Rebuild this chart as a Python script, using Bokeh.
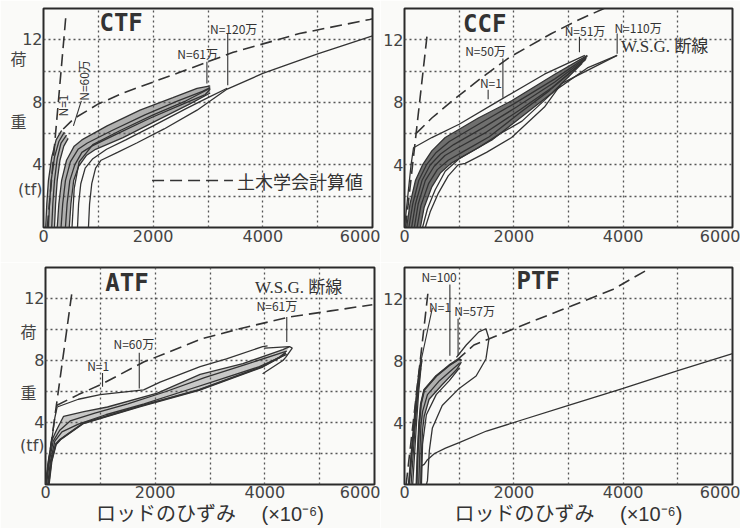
from bokeh.plotting import figure
from bokeh.models import Range1d, FixedTicker
from bokeh.models import Label
from bokeh.layouts import column, row
from bokeh.embed import file_html
from bokeh.resources import INLINE

# ---------------- shared ticks / labels ----------------
X_TICKS = [0, 2000, 4000, 6000]
Y_TICKS = [4, 8, 12]
X_GRID = [1000, 2000, 3000, 4000, 5000]
Y_GRID = [2, 4, 6, 8, 10, 12]
XLABEL = "ロッドのひずみ　 (×10⁻⁶)"
YLABELS = ["荷", "重", "(tf)"]
CTF_YLABEL_POS = [10.75, 6.7, 2.45]
ATF_YLABEL_POS = [9.8, 5.9, 2.5]
CALC_LABEL = "土木学会計算値"

# ---------------- CTF ----------------
ctf_elastic_x = [70, 405]
ctf_elastic_y = [0, 13.4]
ctf_calc_x = [360, 550, 1000, 1455, 2000, 2545, 3460, 4670, 5950, 6000]
ctf_calc_y = [6.3, 6.95, 7.9, 8.6, 9.3, 10.0, 11.2, 12.4, 13.3, 13.35]
ctf_n1a_x = [40, 60, 90, 150, 230, 330]
ctf_n1a_y = [0, 1.5, 3.0, 4.5, 5.6, 6.2]
ctf_n1b_x = [90, 110, 140, 200, 280, 380]
ctf_n1b_y = [0, 1.5, 3.0, 4.5, 5.5, 6.1]
ctf_n1c_x = [150, 170, 200, 250, 320, 420]
ctf_n1c_y = [0, 1.5, 3.0, 4.4, 5.4, 5.9]
ctf_n1d_x = [200, 220, 250, 300, 370, 450]
ctf_n1d_y = [0, 1.5, 3.0, 4.3, 5.2, 5.7]
ctf_m1_x = [250, 280, 330, 420, 560, 700, 1160, 1760, 2360, 2800, 3040]
ctf_m1_y = [0, 1.5, 3.0, 4.3, 5.2, 5.6, 6.5, 7.5, 8.3, 8.9, 9.05]
ctf_m2_x = [320, 350, 400, 490, 630, 800, 1250, 1850, 2450, 2900, 3040]
ctf_m2_y = [0, 1.5, 3.0, 4.2, 5.0, 5.4, 6.2, 7.2, 8.1, 8.7, 8.95]
ctf_m3_x = [400, 430, 480, 570, 700, 880, 1350, 1950, 2550, 2950, 3040]
ctf_m3_y = [0, 1.5, 3.0, 4.0, 4.8, 5.2, 6.0, 7.0, 7.9, 8.5, 8.85]
ctf_m4_x = [470, 500, 550, 640, 780, 950, 1450, 2070, 2670, 3040]
ctf_m4_y = [0, 1.5, 3.0, 3.9, 4.6, 5.0, 5.75, 6.85, 7.9, 8.6]
ctf_mu_x = [3040, 2600, 2000, 1400, 900, 650, 560, 520]
ctf_mu_y = [8.9, 8.1, 7.2, 6.2, 5.3, 4.2, 2.5, 0]
ctf_r1_x = [620, 640, 680, 760, 900, 1150, 1500, 2000, 2600, 3000, 3350]
ctf_r1_y = [0, 1.5, 2.8, 3.8, 4.4, 5.0, 5.6, 6.5, 7.6, 8.3, 8.9]
ctf_r2_x = [820, 840, 880, 950, 1050, 1350, 1700, 2200, 2800, 3350, 4000, 5000, 6000]
ctf_r2_y = [0, 1.5, 2.8, 3.8, 4.3, 4.8, 5.4, 6.3, 7.5, 8.85, 9.85, 11.1, 12.25]

# ---------------- CCF ----------------
ccf_elastic_x = [20, 420]
ccf_elastic_y = [0, 12.5]
ccf_calc_x = [210, 500, 840, 1380, 1930, 2690, 3200, 3650]
ccf_calc_y = [6.0, 7.0, 8.0, 9.5, 10.9, 12.4, 13.3, 14.0]
ccf_up_x = [0, 60, 120, 165, 500, 1000, 1700, 2560, 3300]
ccf_up_y = [0, 2.0, 4.0, 5.1, 5.75, 6.6, 8.05, 9.8, 11.0]
ccf_b1_x = [40, 100, 200, 330, 500, 745, 1350, 1960, 2750, 3345]
ccf_b1_y = [0, 1.5, 3.0, 4.0, 4.9, 5.75, 7.0, 8.1, 9.8, 11.0]
ccf_b2_x = [80, 150, 260, 400, 580, 820, 1400, 2000, 2750, 3345]
ccf_b2_y = [0, 1.5, 3.0, 4.0, 4.8, 5.5, 6.7, 7.9, 9.5, 10.95]
ccf_b3_x = [130, 200, 320, 470, 660, 900, 1450, 2050, 2750, 3330]
ccf_b3_y = [0, 1.5, 3.0, 4.0, 4.7, 5.3, 6.4, 7.7, 9.3, 10.85]
ccf_b4_x = [180, 250, 380, 540, 740, 980, 1500, 2100, 2700, 3320]
ccf_b4_y = [0, 1.5, 3.0, 3.9, 4.6, 5.1, 6.1, 7.5, 8.95, 10.75]
ccf_b5_x = [230, 300, 440, 600, 800, 1050, 1550, 2100, 2650, 3300]
ccf_b5_y = [0, 1.4, 2.8, 3.7, 4.3, 4.8, 5.8, 7.3, 8.75, 10.7]
ccf_b6_x = [290, 360, 500, 660, 850, 1100, 1600, 2150, 2700, 3250]
ccf_b6_y = [0, 1.3, 2.6, 3.5, 4.1, 4.6, 5.6, 7.1, 8.6, 10.5]
ccf_l1_x = [330, 420, 560, 745, 1000, 1350, 1750, 2150, 2750, 3345, 3890]
ccf_l1_y = [0, 1.2, 2.4, 3.6, 4.4, 5.1, 6.0, 6.8, 8.75, 10.2, 11.0]
ccf_l2_x = [380, 470, 620, 800, 980, 1110, 1500, 1960, 2560, 2870, 3890]
ccf_l2_y = [0, 1.0, 2.2, 3.3, 4.0, 4.1, 4.8, 5.75, 7.7, 9.2, 11.0]

# ---------------- ATF ----------------
atf_elastic_x = [0, 490]
atf_elastic_y = [0, 12.6]
atf_calc_x = [200, 600, 1040, 1790, 2850, 3600, 4440, 5200, 5960]
atf_calc_y = [5.1, 5.8, 6.5, 7.9, 9.4, 10.1, 10.8, 11.2, 11.6]
atf_up_x = [0, 60, 120, 170, 212, 600, 1000, 1790, 2090, 2820, 3300, 3960, 4050]
atf_up_y = [0, 1.5, 3.0, 4.3, 5.0, 5.5, 5.8, 6.1, 6.6, 7.6, 8.1, 8.9, 8.95]
atf_a1_x = [0, 50, 110, 200, 330, 700, 1130, 2040, 2820, 3600, 4330, 4450]
atf_a1_y = [0, 1.5, 2.8, 3.5, 4.4, 4.7, 5.0, 5.9, 7.1, 7.8, 8.7, 8.9]
atf_a2_x = [20, 70, 140, 260, 450, 900, 1500, 2200, 2900, 3700, 4400]
atf_a2_y = [0, 1.5, 2.8, 3.5, 4.1, 4.6, 5.2, 6.0, 6.9, 7.8, 8.6]
atf_a3_x = [40, 90, 170, 300, 600, 1100, 1800, 2500, 3200, 3900, 4400]
atf_a3_y = [0, 1.5, 2.8, 3.4, 3.9, 4.5, 5.2, 6.0, 6.8, 7.6, 8.4]
atf_a4_x = [60, 110, 190, 270, 690, 1730, 2800, 3960, 4270, 4380]
atf_a4_y = [0, 1.5, 2.6, 2.9, 3.95, 5.05, 6.1, 7.6, 8.2, 8.5]
atf_tip_x = [4000, 4450, 4500, 4380, 4330, 3960]
atf_tip_y = [8.8, 8.9, 8.8, 8.2, 8.0, 7.15]

# ---------------- PTF ----------------
ptf_elastic_x = [30, 430]
ptf_elastic_y = [0, 12.4]
ptf_calc_x = [950, 1270, 2000, 3040, 3820, 4490]
ptf_calc_y = [8.0, 9.0, 10.05, 11.5, 12.6, 13.95]
ptf_p1_x = [80, 130, 180, 230, 270, 310]
ptf_p1_y = [0, 2, 4, 6, 7.2, 8.1]
ptf_p2_x = [120, 160, 200, 245, 285, 320]
ptf_p2_y = [0, 2, 4, 6, 7.2, 8.0]
ptf_p3_x = [150, 185, 220, 260, 300]
ptf_p3_y = [0, 2, 4, 6, 7.5]
ptf_q1_x = [220, 240, 270, 300, 360, 580, 820, 1000, 1040]
ptf_q1_y = [0, 2, 4, 5.2, 6.1, 7.0, 7.7, 8.1, 8.0]
ptf_q2_x = [260, 280, 300, 330, 420, 640, 900, 1000]
ptf_q2_y = [0, 2, 3.8, 4.7, 5.8, 6.7, 7.5, 7.8]
ptf_q3_x = [300, 310, 330, 360, 450, 680, 950, 1040]
ptf_q3_y = [0, 2, 3.5, 4.4, 5.5, 6.4, 7.4, 7.9]
ptf_q4_x = [310, 320, 330, 400, 580, 820, 1000]
ptf_q4_y = [0, 1.2, 2.6, 4.5, 5.8, 6.7, 7.5]
ptf_loop_x = [400, 420, 455, 510, 690, 1000, 1310, 1490, 1545, 1490, 1360, 1130, 950]
ptf_loop_y = [0, 0.25, 2.2, 3.65, 5.1, 6.2, 7.0, 8.1, 9.4, 10.05, 9.85, 9.0, 8.2]
ptf_long_x = [300, 310, 360, 420, 550, 750, 1000, 1500, 2000, 3000, 4000, 5000, 6000]
ptf_long_y = [0, 1.2, 1.3, 1.6, 2.0, 2.35, 2.7, 3.45, 4.0, 5.1, 6.2, 7.35, 8.45]

INK = "#333333"
BG = "#fafaf8"
CJK = "Noto Sans CJK JP"
TICK_FONT = "DejaVu Sans, Noto Sans CJK JP"


def panel(width, height, bl, br, bt, bb, side_labels=None, side_pos=None, pad="\u2003", xlabel=None):
    p = figure(width=width, height=height, x_range=Range1d(0, 6000), y_range=Range1d(0, 14),
               output_backend="svg", toolbar_location=None,
               min_border_left=bl, min_border_right=br, min_border_top=bt, min_border_bottom=bb,
               background_fill_color=BG, border_fill_color=BG)
    p.outline_line_color = "#2a2a2a"
    p.outline_line_width = 2
    p.xaxis.ticker = FixedTicker(ticks=X_TICKS)
    if side_labels:
        p.yaxis.ticker = FixedTicker(ticks=sorted(Y_TICKS + side_pos))
        pads = [pad, pad, ""]
        p.yaxis.major_label_overrides = {pos: txt + pd for pos, txt, pd in zip(side_pos, side_labels, pads)}
    else:
        p.yaxis.ticker = FixedTicker(ticks=Y_TICKS)
    p.xgrid.ticker = FixedTicker(ticks=X_GRID)
    p.ygrid.ticker = FixedTicker(ticks=Y_GRID)
    for g in (p.xgrid, p.ygrid):
        g.grid_line_color = "#555555"
        g.grid_line_dash = "2 3"
        g.grid_line_width = 1.3
    for ax in (p.xaxis, p.yaxis):
        ax.axis_line_color = None
        ax.major_tick_line_color = None
        ax.minor_tick_line_color = None
        ax.major_tick_out = 0
        ax.major_tick_in = 0
        ax.minor_tick_out = 0
        ax.minor_tick_in = 0
        ax.major_label_text_font = TICK_FONT
        ax.major_label_text_font_size = "16px"
        ax.major_label_text_color = "#444444"
        ax.major_label_standoff = 2
    p.yaxis.major_label_standoff = 1
    if xlabel:
        p.xaxis.axis_label = xlabel
        p.xaxis.axis_label_text_font = "Liberation Sans, Noto Sans CJK JP"
        p.xaxis.axis_label_text_font_size = "20px"
        p.xaxis.axis_label_text_font_style = "normal"
        p.xaxis.axis_label_text_color = INK
        p.xaxis.axis_label_standoff = 2
        p.xaxis.major_label_standoff = 1
    return p


def solid(p, x, y, w=1.3):
    p.line(x, y, line_color=INK, line_width=w)


def dashed(p, x, y):
    p.line(x, y, line_color=INK, line_width=1.6, line_dash="12 6")


def band(p, ux, uy, lx, ly, alpha=0.45, color="#555555"):
    p.patch(list(ux) + list(lx)[::-1], list(uy) + list(ly)[::-1],
            fill_color=color, fill_alpha=alpha, line_color=None)


def lab(p, x, y, text, size="12px", font=CJK, align="left", style="normal", angle=0.0):
    p.add_layout(Label(x=x, y=y, text=text, text_font=font, text_font_size=size,
                       text_align=align, text_baseline="middle", text_color=INK,
                       text_font_style=style, angle=angle))


def title(p, x, y, text):
    lab(p, x, y, text, size="24px", font="DejaVu Sans Mono", style="bold")


# ---------------- panel 1: CTF ----------------
p1 = panel(380, 262, 43, 8, 8, 35, YLABELS, CTF_YLABEL_POS, "\u2003")
band(p1, ctf_n1a_x, ctf_n1a_y, ctf_n1d_x, ctf_n1d_y, 0.4)
band(p1, ctf_m1_x, ctf_m1_y, ctf_m4_x, ctf_m4_y, 0.45)
for cx, cy in [(ctf_n1a_x, ctf_n1a_y), (ctf_n1b_x, ctf_n1b_y), (ctf_n1c_x, ctf_n1c_y),
               (ctf_n1d_x, ctf_n1d_y), (ctf_m1_x, ctf_m1_y), (ctf_m2_x, ctf_m2_y),
               (ctf_m3_x, ctf_m3_y), (ctf_m4_x, ctf_m4_y), (ctf_mu_x, ctf_mu_y),
               (ctf_r1_x, ctf_r1_y), (ctf_r2_x, ctf_r2_y)]:
    solid(p1, cx, cy)
dashed(p1, ctf_elastic_x, ctf_elastic_y)
dashed(p1, ctf_calc_x, ctf_calc_y)
dashed(p1, [1980, 3455], [3.0, 3.0])
lab(p1, 3530, 3.0, CALC_LABEL, size="18px")
title(p1, 1020, 13.05, "CTF")
lab(p1, 3036, 12.75, "N=120万")
lab(p1, 2440, 11.15, "N=61万")
solid(p1, [3360, 3360], [12.4, 9.1], 1.1)
solid(p1, [2980, 2980], [10.6, 9.2], 1.1)
lab(p1, 727, 9.4, "N=60万", angle=1.5708, align="center")
lab(p1, 345, 7.8, "N=1", angle=1.5708, align="center")
solid(p1, [690, 545], [8.1, 6.5], 1.1)

# ---------------- panel 2: CCF ----------------
p2 = panel(360, 262, 21, 8, 8, 35)
band(p2, ccf_b1_x, ccf_b1_y, ccf_b6_x, ccf_b6_y, 0.75, "#404040")
for cx, cy in [(ccf_up_x, ccf_up_y), (ccf_b1_x, ccf_b1_y), (ccf_b2_x, ccf_b2_y),
               (ccf_b3_x, ccf_b3_y), (ccf_b4_x, ccf_b4_y), (ccf_b5_x, ccf_b5_y),
               (ccf_b6_x, ccf_b6_y), (ccf_l1_x, ccf_l1_y), (ccf_l2_x, ccf_l2_y)]:
    solid(p2, cx, cy)
dashed(p2, ccf_elastic_x, ccf_elastic_y)
dashed(p2, ccf_calc_x, ccf_calc_y)
title(p2, 1070, 13.0, "CCF")
lab(p2, 1110, 11.3, "N=50万")
lab(p2, 1380, 9.25, "N=1")
lab(p2, 2930, 12.6, "N=51万")
lab(p2, 3840, 12.8, "N=110万")
lab(p2, 3960, 11.6, "W.S.G. 断線", size="17px", font="Liberation Serif, Noto Sans CJK JP")
solid(p2, [1800, 1800], [10.8, 8.3], 1.1)
solid(p2, [1530, 1530], [8.8, 8.2], 1.1)
solid(p2, [3200, 3200], [12.2, 11.2], 1.1)
solid(p2, [3890, 3890], [12.4, 11.1], 1.1)

# ---------------- panel 3: ATF ----------------
p3 = panel(380, 266, 45, 6, 5, 44, YLABELS, ATF_YLABEL_POS, "\u2002", XLABEL)
band(p3, atf_a1_x, atf_a1_y, atf_a4_x, atf_a4_y, 0.3)
for cx, cy in [(atf_up_x, atf_up_y), (atf_a1_x, atf_a1_y), (atf_a2_x, atf_a2_y),
               (atf_a3_x, atf_a3_y), (atf_a4_x, atf_a4_y), (atf_tip_x, atf_tip_y)]:
    solid(p3, cx, cy)
solid(p3, atf_a4_x, atf_a4_y, 2.0)
dashed(p3, atf_elastic_x, atf_elastic_y)
dashed(p3, atf_calc_x, atf_calc_y)
title(p3, 1090, 13.0, "ATF")
lab(p3, 760, 7.7, "N=1")
lab(p3, 1240, 9.1, "N=60万")
lab(p3, 3850, 11.55, "N=61万")
lab(p3, 3820, 12.7, "W.S.G. 断線", size="17px", font="Liberation Serif, Noto Sans CJK JP")
solid(p3, [1040, 1040], [7.2, 6.3], 1.1)
solid(p3, [1710, 1710], [8.5, 6.2], 1.1)
solid(p3, [4400, 4400], [10.8, 9.2], 1.1)

# ---------------- panel 4: PTF ----------------
p4 = panel(360, 266, 21, 8, 5, 44, xlabel=XLABEL)
band(p4, ptf_q1_x, ptf_q1_y, ptf_q3_x, ptf_q3_y, 0.45)
for cx, cy in [(ptf_p1_x, ptf_p1_y), (ptf_p2_x, ptf_p2_y), (ptf_p3_x, ptf_p3_y),
               (ptf_q1_x, ptf_q1_y), (ptf_q2_x, ptf_q2_y), (ptf_q3_x, ptf_q3_y),
               (ptf_q4_x, ptf_q4_y), (ptf_loop_x, ptf_loop_y), (ptf_long_x, ptf_long_y)]:
    solid(p4, cx, cy)
solid(p4, ptf_p1_x, ptf_p1_y, 2.2)
solid(p4, ptf_q1_x, ptf_q1_y, 2.0)
dashed(p4, ptf_elastic_x, ptf_elastic_y)
dashed(p4, ptf_calc_x, ptf_calc_y)
title(p4, 2050, 13.1, "PTF")
lab(p4, 310, 13.4, "N=100")
lab(p4, 450, 11.5, "N=1")
lab(p4, 910, 11.2, "N=57万")
solid(p4, [310, 510], [8.1, 11.4], 1.1)
solid(p4, [830, 830], [12.9, 8.3], 1.1)
solid(p4, [980, 980], [10.7, 8.3], 1.1)

layout = column(row(p1, p2), row(p3, p4))
open("out.html", "w").write(file_html(layout, INLINE))
